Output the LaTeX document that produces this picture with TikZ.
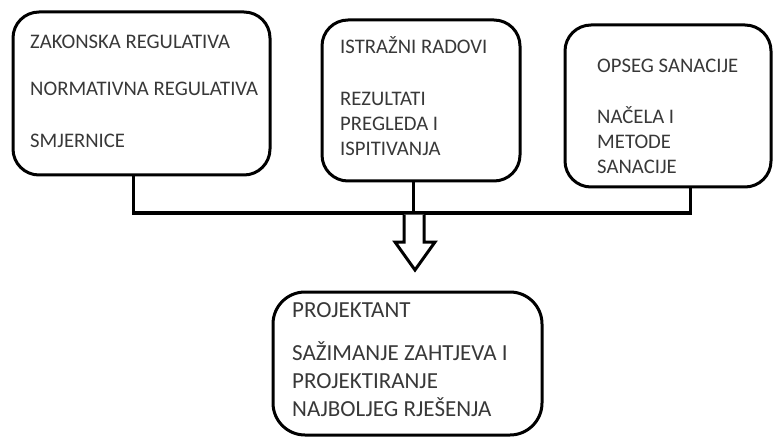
\documentclass[tikz,border=0pt]{standalone}
\usepackage{fontspec}
\setmainfont{Carlito}
\begin{document}
\begin{tikzpicture}[x=1pt,y=-1pt,
  box/.style={draw=black,line width=3pt,rounded corners=26pt,inner sep=0pt},
  txt/.style={anchor=base west,inner sep=0pt,text=black!78,font=\fontsize{20.7}{25}\selectfont},
  bigtxt/.style={txt,font=\fontsize{23}{28}\selectfont},
  conn/.style={draw=black,line width=3pt},
  hollow/.style={draw=black,line width=3pt,fill=white,line join=miter}]
\useasboundingbox (0,0) rectangle (775,438);
% boxes
\node[box,minimum width=257pt,minimum height=163pt] (b1) at (141.5,93.5) {};
\node[box,minimum width=198pt,minimum height=161pt] (b2) at (421,100.5) {};
\node[box,minimum width=206pt,minimum height=162pt] (b3) at (668,106) {};
\node[box,rounded corners=32pt,minimum width=269pt,minimum height=143pt] (b4) at (407.5,363.5) {};
% texts
\node[txt] (t1a) at (30,49) {ZAKONSKA REGULATIVA};
\node[txt] (t1b) at (30,96) {NORMATIVNA REGULATIVA};
\node[txt] (t1c) at (30,148) {SMJERNICE};
\node[txt] (t2a) at (340,54) {ISTRAŽNI RADOVI};
\node[txt] (t2b) at (340,106) {REZULTATI};
\node[txt] (t2c) at (340,131) {PREGLEDA I};
\node[txt] (t2d) at (340,156) {ISPITIVANJA};
\node[txt] (t3a) at (597,73) {OPSEG SANACIJE};
\node[txt] (t3b) at (597,124) {NAČELA I};
\node[txt] (t3c) at (597,149) {METODE};
\node[txt] (t3d) at (597,174) {SANACIJE};
\node[bigtxt] (t4a) at (292,317) {PROJEKTANT};
\node[bigtxt] (t4b) at (292,360) {SAŽIMANJE ZAHTJEVA I};
\node[bigtxt] (t4c) at (292,388) {PROJEKTIRANJE};
\node[bigtxt] (t4d) at (292,416) {NAJBOLJEG RJEŠENJA};
% connectors
\coordinate (c1) at (133,213);
\coordinate (c2) at (413,213);
\coordinate (c3) at (690,213);
\draw[conn] (b1.south -| c1) -- (c1);
\draw[conn] (b2.south -| c2) -- (c2);
\draw[conn] (b3.south -| c3) -- (c3);
\draw[conn,line cap=rect] (c1) -- (c3);
% hollow arrow
\coordinate (a1) at (404,214.5);
\coordinate (a2) at (404,242);
\coordinate (a3) at (395,242);
\coordinate (tip) at (415,270);
\coordinate (a5) at (435,242);
\coordinate (a6) at (424,242);
\coordinate (a7) at (424,214.5);
\draw[hollow] (a1) -- (a2) -- (a3) -- (tip) -- (a5) -- (a6) -- (a7);
\end{tikzpicture}
\end{document}
